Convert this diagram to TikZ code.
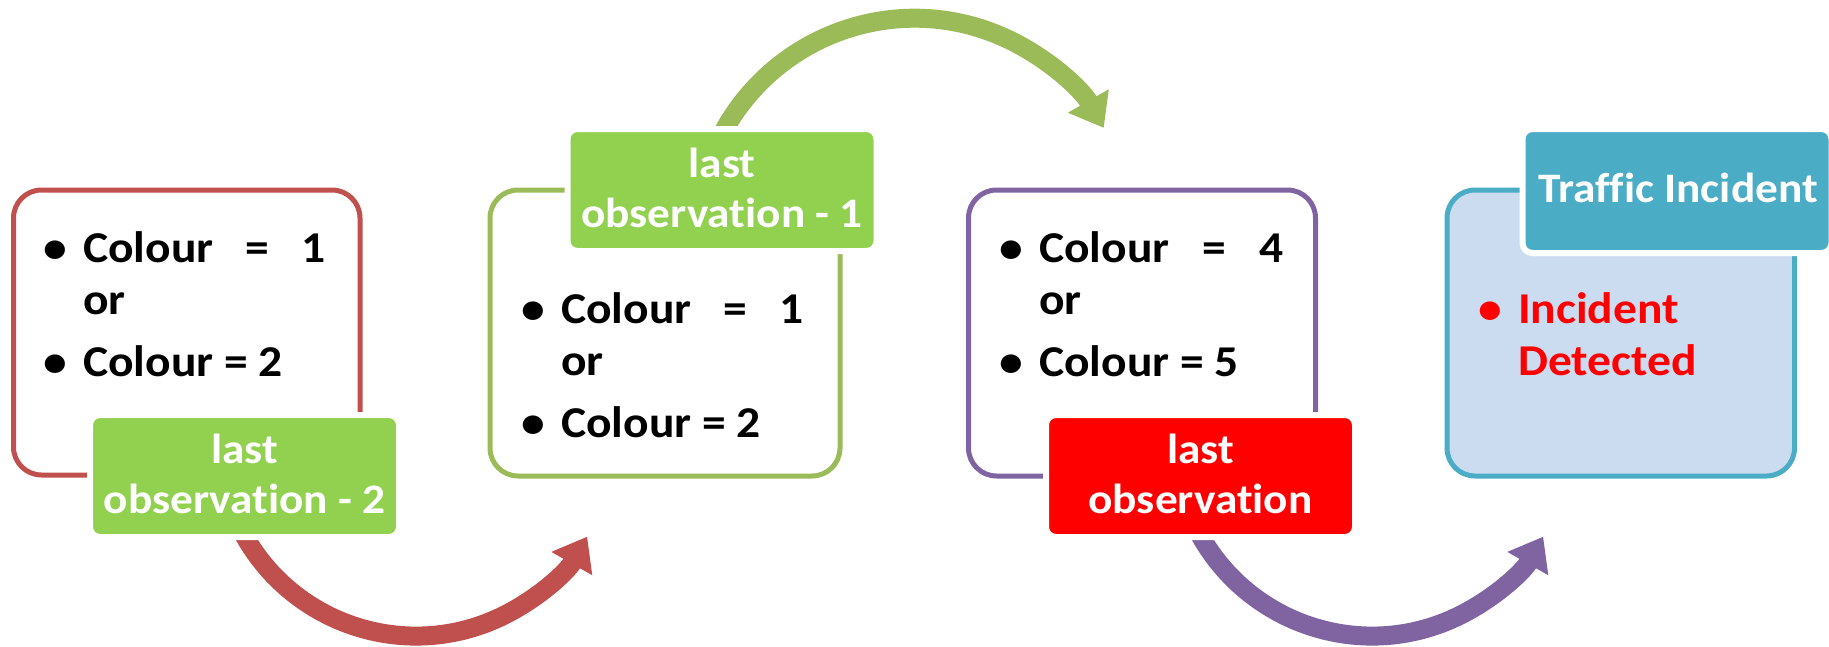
\documentclass[tikz,border=0pt]{standalone}
\usepackage{fontspec}
\setmainfont{Carlito}[FakeStretch=1.08, Ligatures=NoCommon]
\usetikzlibrary{arrows.meta}

\definecolor{boxred}{HTML}{C0504D}
\definecolor{boxgreen}{HTML}{9BBB59}
\definecolor{boxpurple}{HTML}{8064A2}
\definecolor{boxblue}{HTML}{4BACC6}
\definecolor{boxfill}{RGB}{204,220,240}
\definecolor{taggreen}{HTML}{92D050}
\definecolor{tagred}{HTML}{FF0000}

\newcommand{\bulletmark}{\llap{\textbullet\hspace{16pt}}}

\begin{document}
\begin{tikzpicture}[x=1pt, y=-1pt,
  obsbox/.style={rectangle, rounded corners=28pt, line width=5pt, inner sep=0pt},
  obstag/.style={rectangle, rounded corners=10pt, draw=white, line width=6pt, inner sep=0pt,
    minimum width=309pt, minimum height=122pt},
  tagtext/.style={anchor=base, inner sep=0pt, text=white, font=\fontsize{42}{50}\selectfont\bfseries},
  listtext/.style={anchor=base west, inner sep=0pt, font=\fontsize{44}{52}\selectfont\bfseries},
  turn/.style={line width=19pt, -{Triangle[length=31pt, width=45pt]}}]
\useasboundingbox (0,0) rectangle (1829,646);

% curved arrows, tails hidden under the tags
\coordinate (a1s) at (237.5,522.3);
\coordinate (a2s) at (717,144.1);
\coordinate (a3s) at (1193.5,522.3);
\draw[turn, boxred] (a1s) arc[start angle=155, end angle=29.7, radius=197];
\draw[turn, boxgreen] (a2s) arc[start angle=205, end angle=330.2, radius=218];
\draw[turn, boxpurple] (a3s) arc[start angle=155, end angle=29.7, radius=197];

% boxes
\node[obsbox, draw=boxred, minimum width=346.5pt, minimum height=285pt] (box1) at (186.75,332.5) {};
\node[obsbox, draw=boxgreen, minimum width=350pt, minimum height=286pt] (box2) at (665,333) {};
\node[obsbox, draw=boxpurple, minimum width=347pt, minimum height=286pt] (box3) at (1142,333) {};
\node[obsbox, draw=boxblue, fill=boxfill, minimum width=347.5pt, minimum height=286pt] (box4) at (1620.75,333) {};

% tags
\node[obstag, fill=taggreen] (tag1) at (244.5,476) {};
\node[obstag, fill=taggreen] (tag2) at (722,190) {};
\node[obstag, fill=tagred] (tag3) at (1200.5,476) {};
\node[obstag, fill=boxblue, minimum height=124pt] (tag4) at (1677,191) {};

\node[tagtext] (tag1t) at (244.5,463) {\begin{tabular}[t]{@{}c@{}}last\\observation - 2\end{tabular}};
\node[tagtext] (tag2t) at (722,177) {\begin{tabular}[t]{@{}c@{}}last\\observation - 1\end{tabular}};
\node[tagtext] (tag3t) at (1200.5,463) {\begin{tabular}[t]{@{}c@{}}last\\observation\end{tabular}};
\node[tagtext] (tag4t) at (1678,202) {Traffic Incident};

% box contents
\node[listtext] (list1) at (83,262) {\begin{tabular}[t]{@{}l@{}}
  \bulletmark\makebox[242pt][s]{Colour = 1}\\
  or\\[10pt]
  \bulletmark Colour = 2
\end{tabular}};
\node[listtext] (list2) at (561,323) {\begin{tabular}[t]{@{}l@{}}
  \bulletmark\makebox[242pt][s]{Colour = 1}\\
  or\\[10pt]
  \bulletmark Colour = 2
\end{tabular}};
\node[listtext] (list3) at (1039,262) {\begin{tabular}[t]{@{}l@{}}
  \bulletmark\makebox[244pt][s]{Colour = 4}\\
  or\\[10pt]
  \bulletmark Colour = 5
\end{tabular}};
\node[listtext, text=tagred] (list4) at (1518,323) {\begin{tabular}[t]{@{}l@{}}
  \bulletmark Incident\\
  Detected
\end{tabular}};
\end{tikzpicture}
\end{document}
